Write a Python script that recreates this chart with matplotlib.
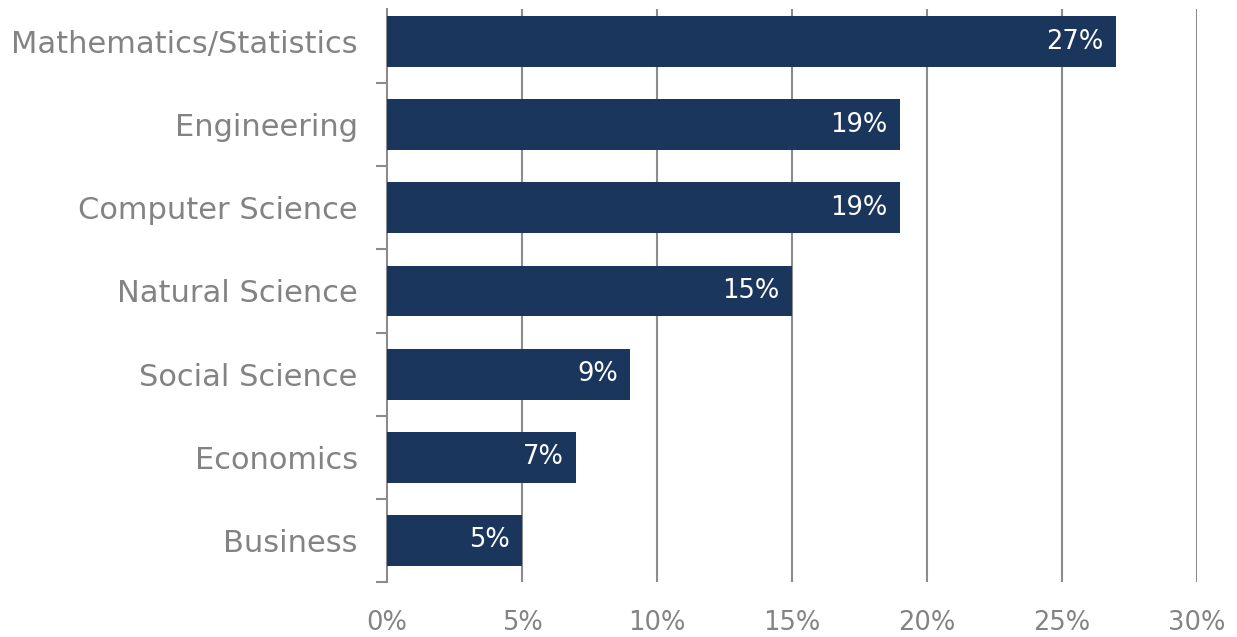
import matplotlib
matplotlib.use("Agg")
import matplotlib.pyplot as plt
from matplotlib.ticker import FixedLocator

categories = ["Mathematics/Statistics", "Engineering", "Computer Science",
              "Natural Science", "Social Science", "Economics", "Business"]
values = [27, 19, 19, 15, 9, 7, 5]
x_ticks = [0, 5, 10, 15, 20, 25, 30]
x_tick_labels = ["0%", "5%", "10%", "15%", "20%", "25%", "30%"]

plt.rcParams['font.family'] = ['DejaVu Sans']

W, H = 1237, 637
fig = plt.figure(figsize=(W / 100, H / 100), dpi=100)
top_px, bot_px = 0, 582
ax = fig.add_axes([387 / W, 1 - bot_px / H, (1197 - 387) / W, (bot_px - top_px) / H])

n = len(categories)
ypos = list(range(n))[::-1]
bar_color = "#1b365d"
grid_color = "#8c8c8c"
text_color = "#838383"

ax.set_xlim(0, 30)
ax.set_ylim(-0.5, n - 0.5)
band_px = (bot_px - top_px) / n
line_top = n - 0.5 - 9 / band_px

ax.barh(ypos, values, height=0.61, color=bar_color, zorder=3)
ax.vlines(x_ticks[1:], -0.5, line_top, color=grid_color, linewidth=1.5, zorder=1)

for y, v in zip(ypos, values):
    ax.text(v - 0.45, y, f"{v}%", ha="right", va="center", color="white",
            fontsize=18.5, zorder=4)

ax.set_xticks(x_ticks)
ax.set_xticklabels(x_tick_labels)
ax.tick_params(axis="x", length=0, labelsize=18.5, labelcolor=text_color, pad=20)

ax.set_yticks(ypos)
ax.set_yticklabels(categories)
ax.tick_params(axis="y", which="major", length=0, labelsize=22,
               labelcolor=text_color, pad=21)
ax.yaxis.set_minor_locator(FixedLocator([i - 0.5 for i in range(n)]))
ax.tick_params(axis="y", which="minor", length=8, width=1.5, color=grid_color,
               direction="out")

for s in ["top", "right", "bottom"]:
    ax.spines[s].set_visible(False)
ax.spines["left"].set_color(grid_color)
ax.spines["left"].set_linewidth(1.5)
ax.spines["left"].set_bounds(-0.5, line_top)

fig.savefig("out.png", dpi=100, facecolor="white")
